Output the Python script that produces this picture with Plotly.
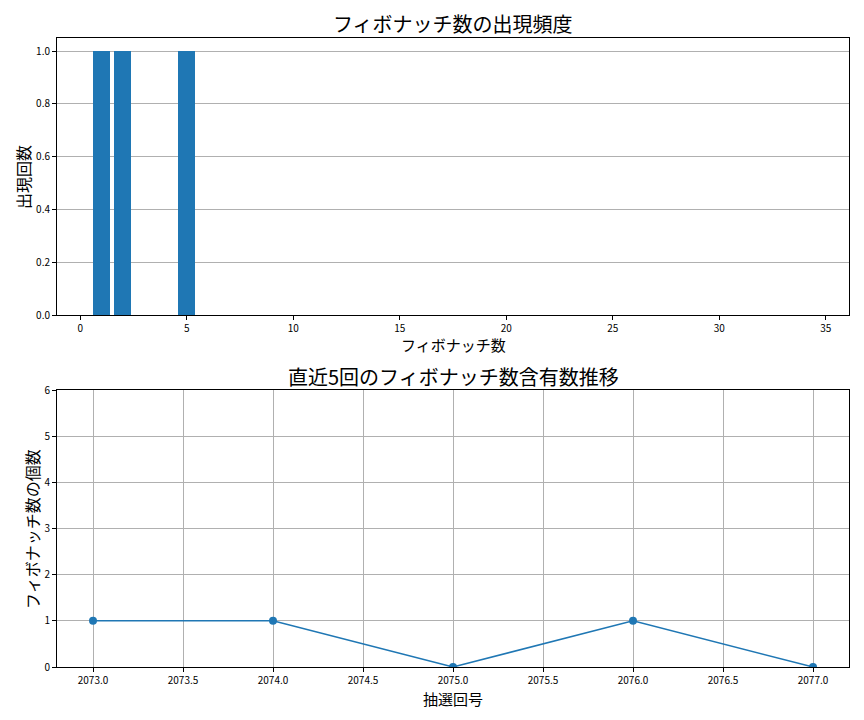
import plotly.graph_objects as go

fib_numbers = [1, 2, 3, 5, 8, 13, 21, 34]
fib_counts = [1, 1, 0, 1, 0, 0, 0, 0]

draw_ids = [2073, 2074, 2075, 2076, 2077]
fib_per_draw = [1, 1, 0, 1, 0]

FONT = "Noto Sans CJK JP"
W, H = 864, 720
BLUE = "#1f77b4"
OFF = 8  # page body margin
L, R, T, B = 57 - OFF, 15 + OFF, 38 - OFF, 53 + OFF
PW, PH = W - L - R, H - T - B

def px_x(p):
    return (p - OFF - L) / PW

def px_y(p):
    return 1 - (p - OFF - T) / PH

fig = go.Figure()
fig.add_trace(go.Bar(x=fib_numbers, y=fib_counts, width=0.8, marker=dict(color=BLUE, line=dict(width=0)),
                     xaxis="x", yaxis="y", showlegend=False))
fig.add_trace(go.Scatter(x=draw_ids, y=fib_per_draw, mode="lines+markers",
                         line=dict(color=BLUE, width=1.5), marker=dict(color=BLUE, size=8),
                         xaxis="x2", yaxis="y2", showlegend=False))

axis_common = dict(showline=True, mirror=True, linecolor="black", linewidth=1, automargin=False,
                   ticks="outside", ticklen=4, tickcolor="black", zeroline=False,
                   tickfont=dict(family=FONT, size=10, color="black"))

xd = [0, 1]
fig.update_layout(
    width=W, height=H,
    margin=dict(l=L, r=R, t=T, b=B, pad=0, autoexpand=False),
    paper_bgcolor="white", plot_bgcolor="white",
    bargap=0,
    xaxis=dict(domain=xd, anchor="y", range=[-1.09, 36.09], tickvals=[0, 5, 10, 15, 20, 25, 30, 35],
               showgrid=False, **axis_common),
    yaxis=dict(domain=[px_y(315), 1], anchor="x", range=[0, 1.05],
               tickvals=[0, 0.2, 0.4, 0.6, 0.8, 1.0], ticktext=["0.0", "0.2", "0.4", "0.6", "0.8", "1.0"],
               showgrid=True, gridcolor="#b0b0b0", gridwidth=0.8, **axis_common),
    xaxis2=dict(domain=xd, anchor="y2", range=[2072.8, 2077.2],
                tickvals=[2073, 2073.5, 2074, 2074.5, 2075, 2075.5, 2076, 2076.5, 2077],
                ticktext=["2073.0", "2073.5", "2074.0", "2074.5", "2075.0", "2075.5", "2076.0", "2076.5", "2077.0"],
                showgrid=True, gridcolor="#b0b0b0", gridwidth=0.8, **axis_common),
    yaxis2=dict(domain=[0, px_y(390)], anchor="x2", range=[0, 6], tickvals=[0, 1, 2, 3, 4, 5, 6],
                showgrid=True, gridcolor="#b0b0b0", gridwidth=0.8, **axis_common),
)

def ann(text, x, y, size, angle=0):
    fig.add_annotation(text=text, x=px_x(x), y=px_y(y),
                       xref="paper", yref="paper", showarrow=False, textangle=angle,
                       xanchor="center", yanchor="middle",
                       font=dict(family=FONT, size=size, color="black"))

ann("フィボナッチ数の出現頻度", 453, 23, 20)
ann("フィボナッチ数", 453, 344, 15)
ann("出現回数", 23, 177, 16, angle=-90)
ann("直近5回のフィボナッチ数含有数推移", 453, 376, 20)
ann("抽選回号", 453, 698, 15)
ann("フィボナッチ数の個数", 32, 529, 16, angle=-90)

fig.write_html("out.html")
